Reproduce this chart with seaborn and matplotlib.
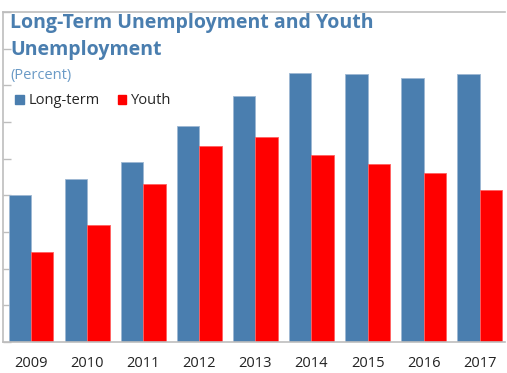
import matplotlib
matplotlib.use("Agg")
import matplotlib.pyplot as plt
import seaborn as sns
import pandas as pd

years = ["2009", "2010", "2011", "2012", "2013", "2014", "2015", "2016", "2017"]
long_term = [4.0, 4.45, 4.9, 5.9, 6.7, 7.35, 7.3, 7.2, 7.3]
youth = [2.45, 3.2, 4.3, 5.35, 5.6, 5.1, 4.85, 4.6, 4.15]
series = ["Long-term", "Youth"]

df = pd.DataFrame({
    "year": years * 2,
    "value": long_term + youth,
    "series": [series[0]] * len(years) + [series[1]] * len(years),
})

sns.set_style("white")
plt.rcParams["font.family"] = ["Open Sans", "DejaVu Sans"]

blue = "#4A7EAF"
red = "#FF0000"
grey = "#BDBDBD"

fig = plt.figure(figsize=(5.07, 3.73), dpi=100)
ax = fig.add_axes([3 / 507, 31 / 373, 502 / 507, 330 / 373])

sns.barplot(data=df, x="year", y="value", hue="series", palette=[blue, red],
            width=0.8, saturation=1, ax=ax, legend=False)
for p in ax.patches:
    p.set_edgecolor("#9DB8D3" if p.get_facecolor()[2] > 0.5 else "#FF6060")
    p.set_linewidth(0.6)

ax.set_ylim(0, 9)
ax.set_xlim(-0.5, 8.45)
ax.set_yticks(range(0, 10))
ax.set_yticklabels([])
ax.tick_params(axis="y", direction="in", length=6, width=1, color=grey, left=True)
ax.tick_params(axis="x", length=0, pad=10, labelsize=10.5, labelcolor="#222222")
ax.set_xlabel("")
ax.set_ylabel("")
for s in ["left", "bottom", "top"]:
    ax.spines[s].set_color(grey)
    ax.spines[s].set_linewidth(1.2)
ax.spines["right"].set_visible(False)

fig.text(10 / 507, 1 - 23 / 373, "Long-Term Unemployment and Youth", color=blue,
         fontsize=14, fontweight="bold", va="center", ha="left")
fig.text(10 / 507, 1 - 50 / 373, "Unemployment", color=blue,
         fontsize=14, fontweight="bold", va="center", ha="left")
fig.text(10 / 507, 1 - 75 / 373, "(Percent)", color="#6A9AC6",
         fontsize=10.5, va="center", ha="left")

handles = [plt.Rectangle((0, 0), 1, 1, color=blue), plt.Rectangle((0, 0), 1, 1, color=red)]
fig.legend(handles, series, loc="center left", bbox_to_anchor=(15 / 507, 1 - 101 / 373),
           ncol=2, frameon=False, fontsize=10.5, handlelength=0.6, handleheight=0.6,
           handletextpad=0.35, columnspacing=1.2, borderaxespad=0, borderpad=0)

fig.savefig("out.png", dpi=100)
